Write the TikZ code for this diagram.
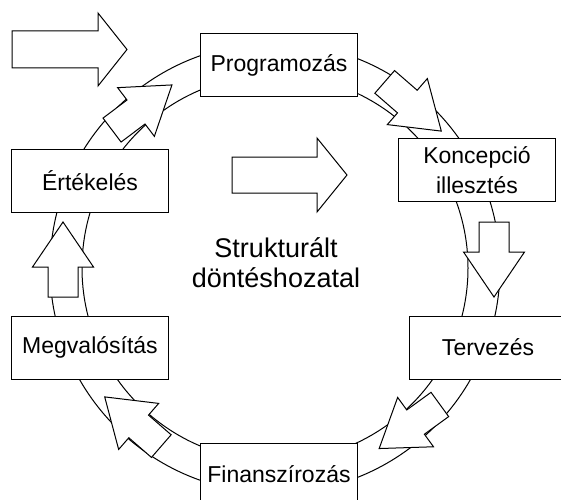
\documentclass[tikz,border=0pt]{standalone}
\usepackage{fontspec}
\setmainfont{Liberation Sans}

\begin{document}
\begin{tikzpicture}[x=1pt,y=1pt,line width=1pt,
  stage/.style={draw,fill=white,minimum width=157pt,minimum height=63pt,
    inner sep=0pt,align=center,font=\fontsize{23}{30}\selectfont},
  blockarrow/.style={draw,fill=white,line join=miter}]

\clip (0,0) rectangle (561,499);

% the ring
\coordinate (c) at (275,231);
\draw (c) circle (225);
\draw (c) circle (193);

% arrows on the ring
\foreach \x/\y/\d in {142/391.5/37, 413/392.5/-41, 494/239.5/-90,
                      409.5/72.5/-144, 133/77.5/139, 63/239.5/90}{
\begin{scope}[shift={(\x,\y)},rotate=\d]
\draw[blockarrow] (-37.5,-15) -- (-7.5,-15) -- (-7.5,-30.5) -- (37.5,0)
  -- (-7.5,30.5) -- (-7.5,15) -- (-37.5,15) -- cycle;
\end{scope}}

% big arrows
\draw[blockarrow] (12,431) -- (98,431) -- (98,413) -- (127,449.5)
  -- (98,486) -- (98,468) -- (12,468) -- cycle;
\draw[blockarrow] (232,306) -- (317,306) -- (317,287) -- (347,324)
  -- (317,361) -- (317,342) -- (232,342) -- cycle;

\node[stage] (prog) at (279,433.5) {Programozás};
\node[stage] (konc) at (477,329) {Koncepció\\illesztés};
\node[stage] (terv) at (488,151.5) {Tervezés};
\node[stage] (fin)  at (279,24.5) {Finanszírozás};
\node[stage] (megv) at (90,151.5) {Megvalósítás};
\node[stage] (ert)  at (90,318.5) {Értékelés};

\node[align=center,inner sep=0pt,font=\fontsize{27}{30}\selectfont]
  (cim) at (276,236) {Strukturált\\döntéshozatal};

\end{tikzpicture}
\end{document}
